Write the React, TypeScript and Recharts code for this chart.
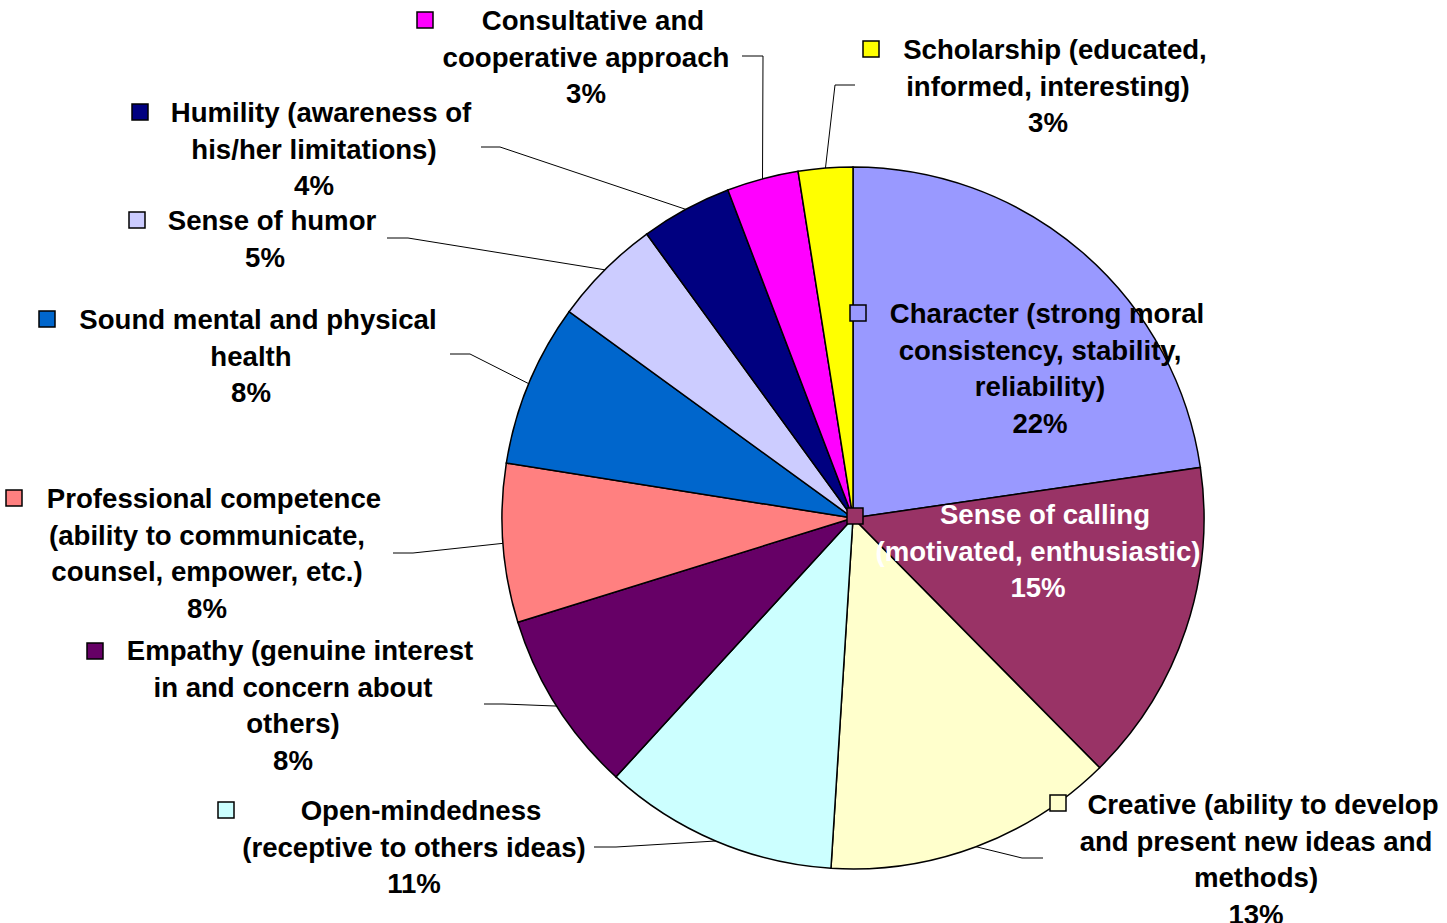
import { Cell, Pie, PieChart } from "recharts";

const categories = [
  "Character",
  "Sense of calling",
  "Creative",
  "Open-mindedness",
  "Empathy",
  "Professional competence",
  "Sound mental and physical health",
  "Sense of humor",
  "Humility",
  "Consultative and cooperative approach",
  "Scholarship",
];

// label text, line by line, as printed next to each slice
const labelLines = [
  ["Character (strong moral", "consistency, stability,", "reliability)"],
  ["Sense of calling", "(motivated, enthusiastic)"],
  ["Creative (ability to develop", "and present new ideas and", "methods)"],
  ["Open-mindedness", "(receptive to others ideas)"],
  ["Empathy (genuine interest", "in and concern about", "others)"],
  ["Professional competence", "(ability to communicate,", "counsel, empower, etc.)"],
  ["Sound mental and physical", "health"],
  ["Sense of humor"],
  ["Humility (awareness of", "his/her limitations)"],
  ["Consultative and", "cooperative approach"],
  ["Scholarship (educated,", "informed, interesting)"],
];

const values = [22.7, 14.9, 13.4, 10.8, 8.4, 7.3, 7.5, 5.0, 4.2, 3.3, 2.5];
const percentLabels = ["22%", "15%", "13%", "11%", "8%", "8%", "8%", "5%", "4%", "3%", "3%"];

const colors = [
  "#9999FF",
  "#993366",
  "#FFFFCC",
  "#CCFFFF",
  "#660066",
  "#FF8080",
  "#0066CC",
  "#CCCCFF",
  "#000080",
  "#FF00FF",
  "#FFFF00",
];

// where each data label box sits (x = text centre, y = first baseline)
const labelLayout = [
  { x: 1040, y: 323, keyX: 858, keyY: 313, stub: null, color: "#000" },
  { x: 1038, y: 524, keyX: 855, keyY: 516, stub: null, color: "#fff" },
  { x: 1256, y: 814, keyX: 1058, keyY: 803, stub: [1043, 1022, 858], color: "#000" },
  { x: 414, y: 820, keyX: 226, keyY: 810, stub: [594, 616, 847], color: "#000" },
  { x: 293, y: 660, keyX: 95, keyY: 651, stub: [484, 503, 704], color: "#000" },
  { x: 207, y: 508, keyX: 14, keyY: 498, stub: [393, 413, 553], color: "#000" },
  { x: 251, y: 329, keyX: 47, keyY: 319, stub: [450, 470, 354], color: "#000" },
  { x: 265, y: 230, keyX: 137, keyY: 220, stub: [387, 408, 238], color: "#000" },
  { x: 314, y: 122, keyX: 140, keyY: 112, stub: [481, 500, 147], color: "#000" },
  { x: 586, y: 30, keyX: 425, keyY: 20, stub: [742, 763, 56], color: "#000" },
  { x: 1048, y: 59, keyX: 871, keyY: 49, stub: [855, 835, 85], color: "#000" },
];

const data = categories.map((name, i) => ({ name, value: values[i] }));

const FONT = "'Liberation Sans', Arial, Helvetica, sans-serif";
const LINE = 36.7;
const RADIAN = Math.PI / 180;

function renderLabel(props: any) {
  const { cx, cy, midAngle, outerRadius, index } = props;
  const lay = labelLayout[index];
  const lines = [...labelLines[index], percentLabels[index]];
  const ex = cx + outerRadius * Math.cos(-midAngle * RADIAN);
  const ey = cy + outerRadius * Math.sin(-midAngle * RADIAN);
  return (
    <g key={`lbl-${index}`}>
      {lay.stub && (
        <polyline
          points={`${lay.stub[0]},${lay.stub[2]} ${lay.stub[1]},${lay.stub[2]} ${ex},${ey}`}
          fill="none"
          stroke="#000"
          strokeWidth={1}
        />
      )}
      <rect
        x={lay.keyX - 8}
        y={lay.keyY - 8}
        width={16}
        height={16}
        fill={colors[index]}
        stroke="#000"
        strokeWidth={1.5}
      />
      <text
        textAnchor="middle"
        fontFamily={FONT}
        fontWeight="bold"
        fontSize={27.6}
        fill={lay.color}
      >
        {lines.map((line, i) => (
          <tspan key={i} x={lay.x + (i === 0 ? 7 : 0)} y={lay.y + i * LINE}>
            {line}
          </tspan>
        ))}
      </text>
    </g>
  );
}

export default function App() {
  return (
    <div style={{ position: "absolute", left: 0, top: 0, background: "#fff" }}>
      <PieChart width={1447} height={923} margin={{ top: 0, right: 0, bottom: 0, left: 0 }}>
        <Pie
          data={data}
          dataKey="value"
          nameKey="name"
          cx={853}
          cy={518}
          outerRadius={351}
          startAngle={90}
          endAngle={-270}
          stroke="#000"
          strokeWidth={1.5}
          label={renderLabel}
          labelLine={false}
          isAnimationActive={false}
        >
          {data.map((d, i) => (
            <Cell key={d.name} fill={colors[i]} />
          ))}
        </Pie>
      </PieChart>
    </div>
  );
}
